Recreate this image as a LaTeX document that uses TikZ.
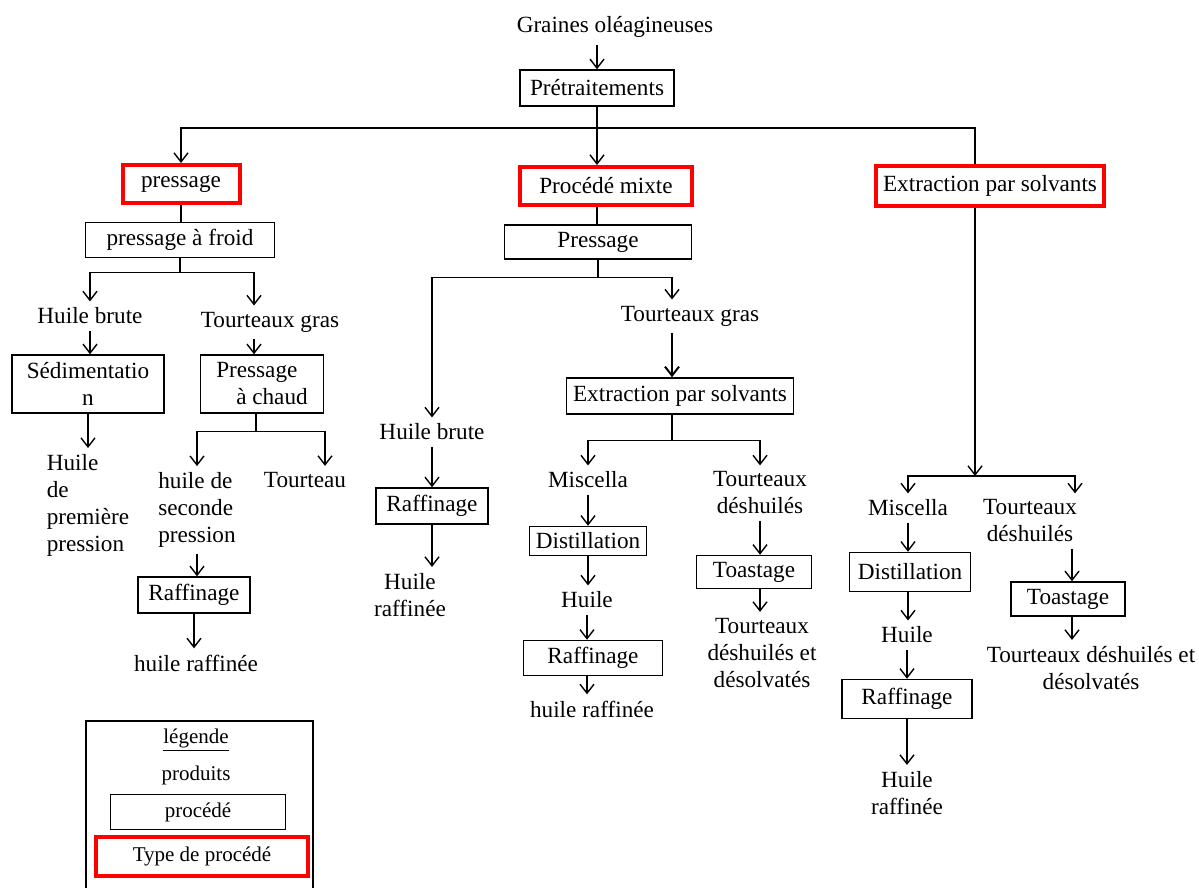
\documentclass[tikz,border=0pt]{standalone}
\usepackage{fontspec}
\setmainfont{Liberation Serif}
\usetikzlibrary{arrows.meta}
\definecolor{cadrerouge}{HTML}{FF0000}

\begin{document}
\begin{tikzpicture}[x=0.5pt,y=-0.5pt,
  every node/.style={font=\fontsize{11.6}{13.5}\selectfont,align=center},
  produit/.style={inner sep=3pt},
  procede/.style={draw,line width=0.75pt,inner sep=2pt,minimum height=17.5pt},
  typeproc/.style={draw=cadrerouge,line width=2pt,inner sep=2pt,minimum height=19pt},
  legendetxt/.style={font=\fontsize{10.5}{12}\selectfont},
  fleche/.style={draw,line width=0.7pt,-{Straight Barb[length=4.5pt,width=7pt]}},
  trait/.style={draw,line width=0.7pt}]
\useasboundingbox (0,0) rectangle (1199,888);
\node (graines) at (615,27) {Graines oléagineuses};
\node[procede,minimum width=77pt,minimum height=18pt] (pretr) at (597,88) {Prétraitements};
\node[typeproc,minimum width=58.5pt] (pressage) at (181,184) {pressage};
\node[typeproc,minimum width=86pt] (mixte) at (606,186) {Procédé mixte};
\node[typeproc,minimum width=114pt,minimum height=20pt] (extraction) at (990,186) {Extraction par solvants};
\coordinate (t1) at (597,128);
\coordinate (c3) at (975,128);
\coordinate (j6) at (975,476);

\node[procede,minimum width=94.5pt] (froid) at (180,240) {pressage à froid};
\node[produit] (hbrute1) at (90,316) {Huile brute};
\node[produit] (tgras1) at (270,322) {Tourteaux gras};
\node[procede,minimum width=76pt,minimum height=29pt] (sedim) at (88,384) {Sédimentatio\\n};
\node[procede,minimum width=61.5pt,minimum height=29pt,align=left] (chaud) at (262,384) {Pressage\\\hspace{10pt}à chaud};
\node[produit,align=left,anchor=north] (hpp) at (88,448) {Huile\\de\\première\\pression};
\node[produit,align=left] (hsp) at (197,510) {huile de\\seconde\\pression};
\node[produit] (tourteau) at (305,480) {Tourteau};
\node[procede,minimum width=56pt,minimum height=18pt] (raff1) at (194,595) {Raffinage};
\node[produit] (hraff1) at (196,663) {huile raffinée};

\node[procede,minimum width=93.5pt,minimum height=17pt] (pressM) at (598,242) {Pressage};
\node[produit] (hbrute2) at (432,432) {Huile brute};
\node[produit] (tgras2) at (690,316) {Tourteaux gras};
\node[procede,minimum width=113.5pt,minimum height=18pt] (extrM) at (680,396) {Extraction par solvants};
\node[procede,minimum width=56pt,minimum height=18pt] (raff3) at (432,506) {Raffinage};
\node[produit] (hraff3) at (410,595) {Huile\\raffinée};
\node[produit] (misc1) at (588,480) {Miscella};
\node[produit] (tdesh1) at (760,493) {Tourteaux\\déshuilés};
\node[procede,minimum width=58.5pt,minimum height=14.5pt] (dist1) at (588,541) {Distillation};
\node[produit] (huile1) at (587,600) {Huile};
\node[procede,minimum width=69.5pt] (raff2) at (593,658) {Raffinage};
\node[produit] (hraff2) at (592,709) {huile raffinée};
\node[procede,minimum width=57.5pt,minimum height=16.5pt] (toast1) at (754,572) {Toastage};
\node[produit] (tdd1) at (762,653) {Tourteaux\\déshuilés et\\désolvatés};

\node[produit] (misc2) at (908,508) {Miscella};
\node[produit] (tdesh2) at (1030,521) {Tourteaux\\déshuilés};
\node[procede,minimum width=60.5pt,minimum height=19.5pt] (dist2) at (910,572) {Distillation};
\node[produit] (huile2) at (907,635) {Huile};
\node[procede,minimum width=65pt,minimum height=19.5pt] (raff4) at (907,699) {Raffinage};
\node[produit] (hraff4) at (907,793) {Huile\\raffinée};
\node[procede,minimum width=57pt,minimum height=17pt] (toast2) at (1068,599) {Toastage};
\node[produit] (tdd2) at (1091,668) {Tourteaux déshuilés et\\désolvatés};

\draw[trait,line width=0.9pt] (86,888) |- (313,721) -- (313,888);
\node[legendetxt] (legende) at (196,740) {\underline{légende}};
\node[legendetxt] (lproduit) at (196,775) {produits};
\node[procede,legendetxt,minimum width=87.5pt] (lprocede) at (198,812) {procédé};
\node[typeproc,legendetxt,minimum width=106pt,minimum height=19.5pt] (ltype) at (202,856) {Type de procédé};

\draw[fleche] (graines.south -| pretr.north) -- (pretr.north);
\draw[trait] (pretr.south) -- (t1) -- (c3) -- (c3 |- extraction.north);
\draw[fleche] (t1) -| (pressage.north);
\draw[fleche] (t1) -- (t1 |- mixte.north);
\draw[fleche] (c3 |- extraction.south) -- (j6);

\draw[trait] (pressage.south) -- (pressage.south |- froid.north);
\draw[trait] (froid.south) -- ++(0,14) coordinate (j1);
\draw[fleche] (j1) -| (hbrute1.north);
\draw[fleche] (j1) -| ([xshift=-8pt]tgras1.north);
\draw[fleche] (hbrute1.south) -- (hbrute1.south |- sedim.north);
\draw[fleche] ([xshift=-8pt]tgras1.south) -- ([xshift=-8pt]tgras1.south |- chaud.north);
\draw[fleche] (sedim.south) -- (sedim.south |- hpp.north);
\draw[trait] ([xshift=-3pt]chaud.south) -- ++(0,18) coordinate (j2);
\draw[fleche] (j2) -| (hsp.north);
\draw[fleche] (j2) -| ([xshift=10pt]tourteau.north);
\draw[fleche] (hsp.south) -- (hsp.south |- raff1.north);
\draw[fleche] (raff1.south) -- (raff1.south |- hraff1.north);

\draw[trait] (t1 |- mixte.south) -- (t1 |- pressM.north);
\draw[trait] (pressM.south) -- ++(0,18) coordinate (j3);
\draw[fleche] (j3) -| (hbrute2.north);
\draw[fleche] (j3) -| ([xshift=-9pt]tgras2.north);
\draw[fleche,line width=1pt] ([xshift=-9pt]tgras2.south) -- ([xshift=-9pt]tgras2.south |- extrM.north);
\draw[trait] ([xshift=-4pt]extrM.south) -- ++(0,26) coordinate (j4);
\draw[fleche] (j4) -| (misc1.north);
\draw[fleche] (j4) -| (tdesh1.north);
\draw[fleche] (misc1.south) -- (misc1.south |- dist1.north);
\draw[fleche] (dist1.south) -- (dist1.south |- huile1.north);
\draw[fleche] (huile1.south) -- (huile1.south |- raff2.north);
\draw[fleche] (raff2.south -| huile1) -- (huile1 |- hraff2.north);
\draw[fleche] (tdesh1.south) -- (tdesh1.south |- toast1.north);
\draw[fleche] (toast1.south -| tdesh1) -- (tdesh1 |- tdd1.north);
\draw[fleche] (hbrute2.south) -- (hbrute2.south |- raff3.north);
\draw[fleche] (raff3.south) -- (raff3.south |- hraff3.north);

\draw[fleche] (j6) -| (misc2.north);
\draw[fleche] (j6) -| ([xshift=22.5pt]tdesh2.north);
\draw[fleche] (misc2.south) -- (misc2.south |- dist2.north);
\draw[fleche] (dist2.south -| misc2) -- (misc2 |- huile2.north);
\draw[fleche] (huile2.south) -- (huile2.south |- raff4.north);
\draw[fleche] (raff4.south) -- (raff4.south |- hraff4.north);
\draw[fleche] ([xshift=21pt]tdesh2.south) -- ([xshift=21pt]tdesh2.south |- toast2.north);
\draw[fleche] ([xshift=2pt]toast2.south) -- ([xshift=2pt]toast2.south |- tdd2.north);
\end{tikzpicture}
\end{document}
